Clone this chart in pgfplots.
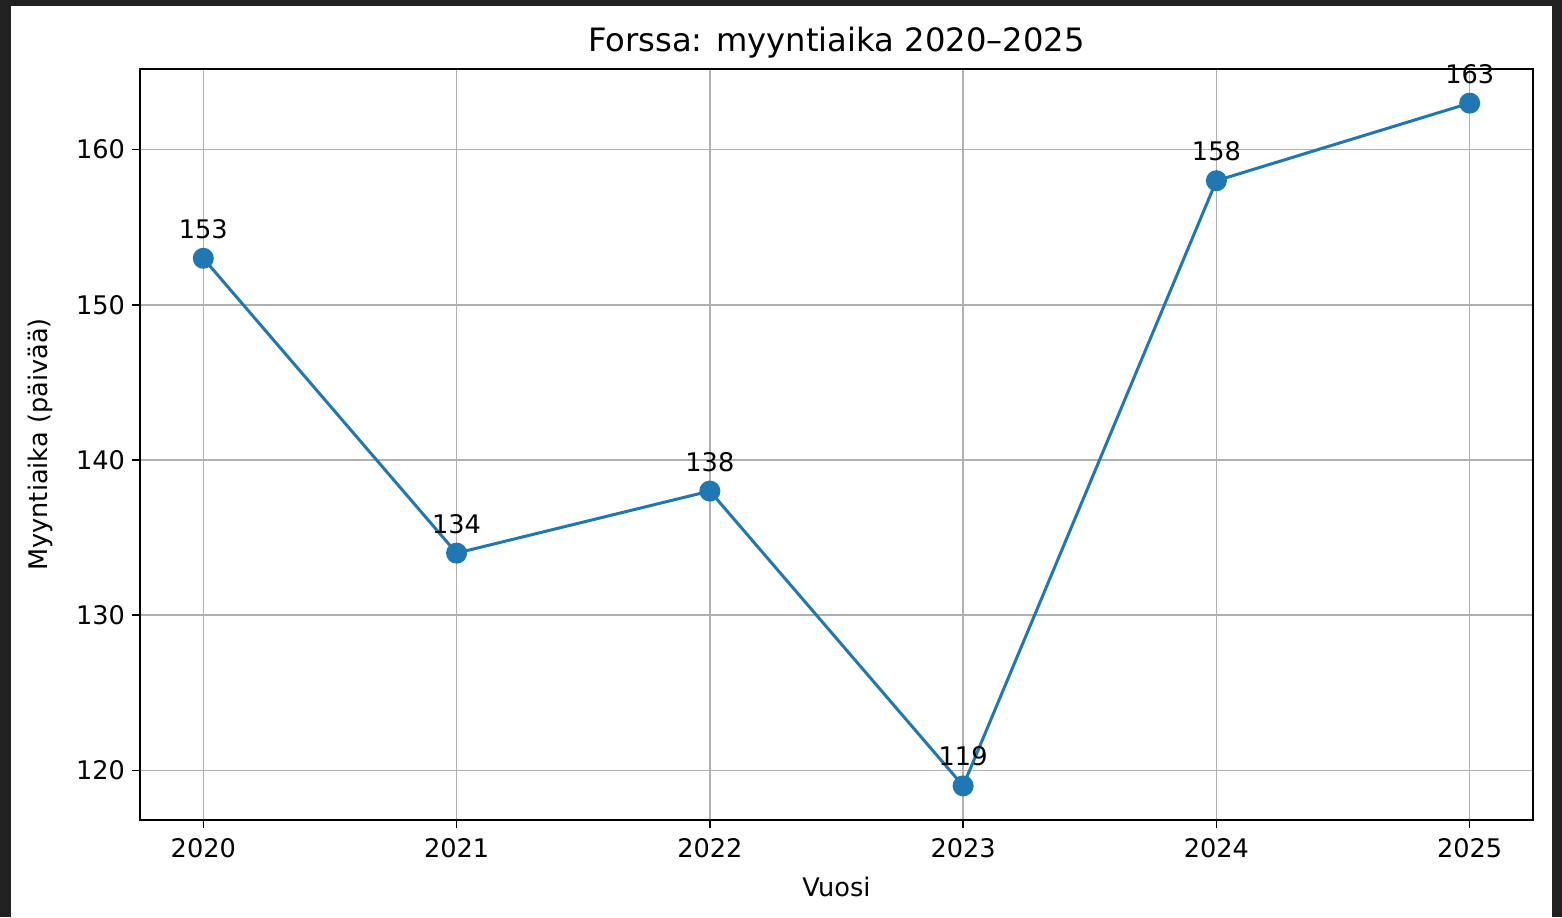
\documentclass[border=0pt]{standalone}
\usepackage{fontspec}
\setmainfont{DejaVu Sans}
\usepackage{pgfplots}
\pgfplotsset{compat=1.18}
\definecolor{mplblue}{HTML}{1F77B4}
\definecolor{gridgray}{HTML}{B0B0B0}
\definecolor{frame}{HTML}{212121}
\begin{document}
\begin{tikzpicture}
% screenshot frame (1px = 0.5pt)
\fill[frame] (-70pt,-48.5pt) rectangle (711pt,410pt);
\fill[white] (-64.5pt,-48.5pt) rectangle (706pt,407pt);
\begin{axis}[
  scale only axis,
  width=696.5pt, height=375.5pt,
  xmin=2019.75, xmax=2025.25,
  ymin=116.8, ymax=165.2,
  xtick=data,
  ytick={120,130,140,150,160},
  tick pos=left,
  /pgf/number format/assume math mode=true,
  xticklabel style={/pgf/number format/1000 sep={}, yshift=-1.5pt},
  ticklabel style={font=\fontsize{12.8}{15}\selectfont},
  tick align=outside,
  major tick length=4pt,
  tick style={black, line width=0.8pt},
  axis line style={line width=1pt},
  grid=major,
  grid style={gridgray, line width=0.8pt},
  title={Forssa: myyntiaika 2020–2025},
  title style={font=\fontsize{16.1}{19}\selectfont, at={(axis description cs:0.5,1)}, anchor=center, yshift=7pt},
  xlabel={Vuosi},
  ylabel={Myyntiaika (päivää)},
  label style={font=\fontsize{12.8}{15}\selectfont},
  xlabel style={at={(axis description cs:0.5,0)}, anchor=center, yshift=-33.5pt},
  ylabel style={at={(axis description cs:-0.0718,0.5)}, anchor=center},
  nodes near coords,
  nodes near coords style={font=\fontsize{12.8}{15}\selectfont, anchor=base, yshift=10pt, inner sep=0pt, black},
]
\addplot[mplblue, line width=1.5pt, mark=*, mark size=4.5pt, mark options={fill=mplblue, draw=mplblue}]
coordinates{ (2020,153) (2021,134) (2022,138) (2023,119) (2024,158) (2025,163) };
\end{axis}
\end{tikzpicture}
\end{document}
